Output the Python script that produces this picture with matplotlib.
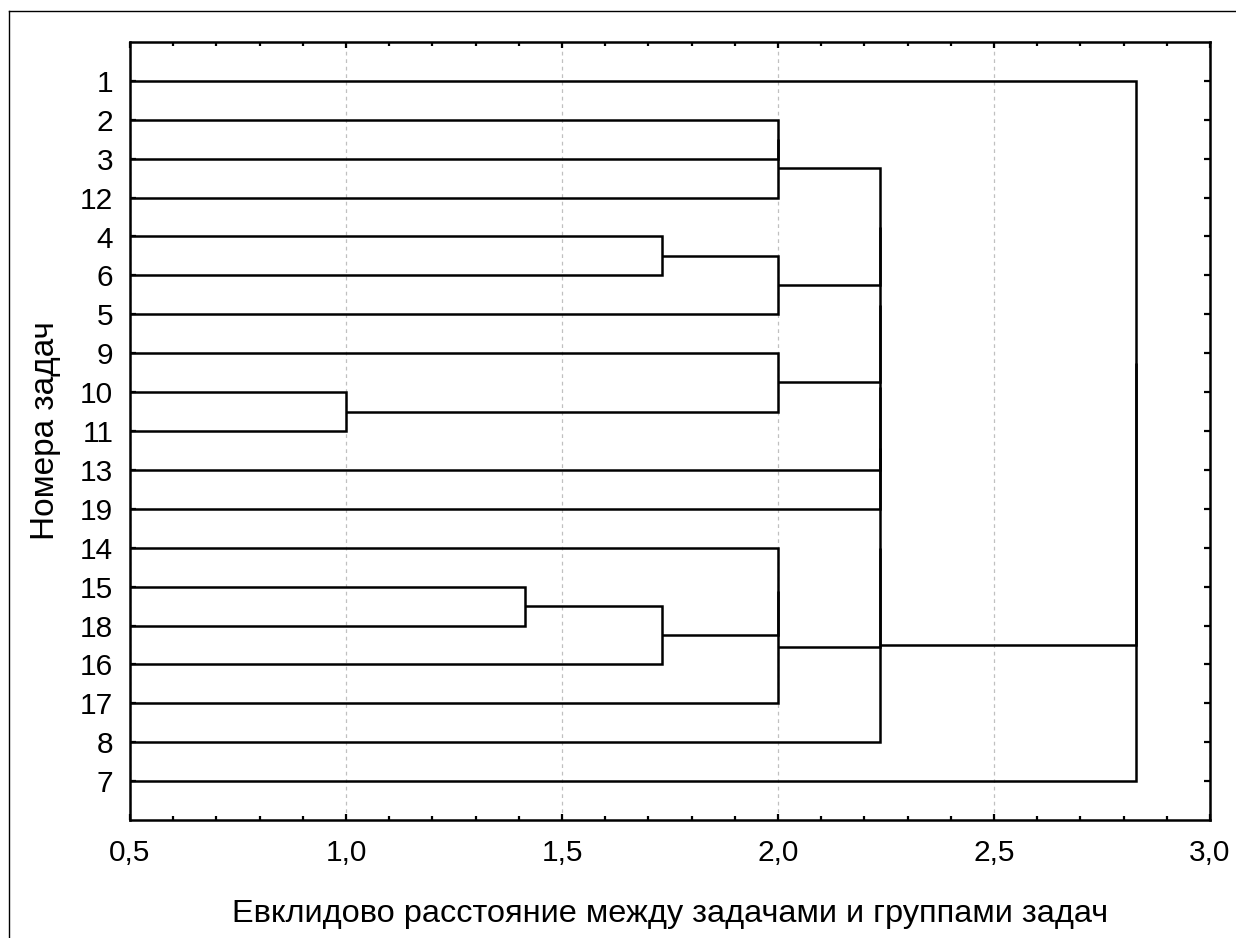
import matplotlib
matplotlib.use("Agg")
from matplotlib import pyplot as plt
from matplotlib.lines import Line2D
from matplotlib.ticker import MultipleLocator, FuncFormatter

# порядок листьев дерева сверху вниз
leaves = ['1', '2', '3', '12', '4', '6', '5', '9', '10', '11', '13', '19',
          '14', '15', '18', '16', '17', '8', '7']

# объединения: (левый, правый, расстояние); строка - задача, число - номер предыдущего кластера
merge_a = ['2', 0, '4', 2, '10', '9', '15', 6, '14', 8, 1, 10, 11, 12, 13, 14, '1', 16]
merge_b = ['3', '12', '6', '5', '11', 4, '18', '16', 7, '17', 3, 5, '13', '19', 9, '8', 15, '7']
merge_d = [2.0, 2.0, 1.732, 2.0, 1.0, 2.0, 1.414, 1.732, 2.0, 2.0,
           2.236, 2.236, 2.236, 2.236, 2.236, 2.236, 2.828, 2.828]

plt.rcParams['font.family'] = ['Liberation Sans', 'DejaVu Sans']
fig = plt.figure(figsize=(12.36, 9.38), dpi=100)
ax = fig.add_axes([130 / 1236, 1 - 820 / 938, 1080 / 1236, 778 / 938])

# рамка вокруг рисунка
fig.add_artist(Line2D([9 / 1236, 1.0], [1 - 11 / 938, 1 - 11 / 938], color='black', lw=1))
fig.add_artist(Line2D([9 / 1236, 9 / 1236], [0, 1 - 11 / 938], color='black', lw=1))

leaf_pos = {name: i + 1 for i, name in enumerate(leaves)}
nodes = []  # (x, y) каждого кластера


def get_node(key):
    if isinstance(key, str):
        return 0.0, leaf_pos[key]
    return nodes[key]


for a, b, d in zip(merge_a, merge_b, merge_d):
    xa, ya = get_node(a)
    xb, yb = get_node(b)
    ax.plot([xa, d, d, xb], [ya, ya, yb, yb], color='black', lw=1.8,
            solid_joinstyle='miter', solid_capstyle='butt', zorder=3)
    nodes.append((d, (ya + yb) / 2))

ax.set_xlim(0.5, 3.0)
ax.set_ylim(len(leaves) + 1, 0)
ax.set_yticks(range(1, len(leaves) + 1))
ax.set_yticklabels(leaves)
ax.xaxis.set_major_locator(MultipleLocator(0.5))
ax.xaxis.set_minor_locator(MultipleLocator(0.1))
ax.xaxis.set_major_formatter(FuncFormatter(lambda v, p: ('%.1f' % v).replace('.', ',')))

ax.tick_params(axis='both', which='both', direction='in', top=True, right=True,
               width=1.6, labelsize=21.5)
ax.tick_params(axis='both', which='major', length=4)
ax.tick_params(axis='x', which='minor', length=3)
ax.tick_params(axis='x', which='major', pad=14)
ax.tick_params(axis='y', which='major', pad=12)
for s in ax.spines.values():
    s.set_linewidth(1.8)

ax.grid(axis='x', which='major', color='#c0c0c0', linestyle=(0, (3, 3)), lw=0.9)

ax.set_xlabel('Евклидово расстояние между задачами и группами задач', fontsize=23.4, labelpad=23)
ax.set_ylabel('Номера задач', fontsize=24, labelpad=14)

plt.savefig('out.png', dpi=100)
